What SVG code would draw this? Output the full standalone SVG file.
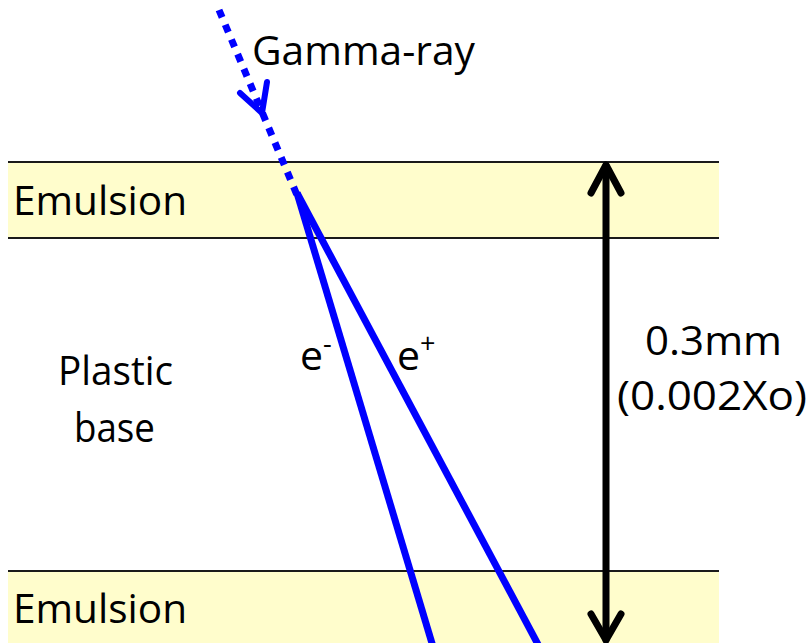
<svg xmlns="http://www.w3.org/2000/svg" width="811" height="643" viewBox="0 0 811 643">
<style>
.band{fill:#FFFDCC;}
.edge{stroke:#1a1a1a;stroke-width:2;fill:none;}
.t{font-family:"Open Sans","Liberation Sans",sans-serif;font-size:41px;fill:#000;}
.blue{stroke:#0000FF;stroke-width:7;fill:none;}
.blk{stroke:#000;stroke-width:7;fill:none;stroke-linecap:round;stroke-linejoin:round;}
</style>
<rect width="811" height="643" fill="#fff"/>
<g id="emulsion-top">
<rect class="band" x="8" y="162" width="711" height="76"/>
<line class="edge" x1="8" y1="162" x2="719" y2="162"/>
<line class="edge" x1="8" y1="238" x2="719" y2="238"/>
<text class="t" x="13" y="215" textLength="174" lengthAdjust="spacingAndGlyphs">Emulsion</text>
</g>
<g id="emulsion-bottom">
<rect class="band" x="8" y="571" width="711" height="72"/>
<line class="edge" x1="8" y1="571" x2="719" y2="571"/>
<text class="t" x="13" y="623" textLength="174" lengthAdjust="spacingAndGlyphs">Emulsion</text>
</g>
<g id="plastic-base">
<text class="t" x="58" y="385" textLength="115" lengthAdjust="spacingAndGlyphs">Plastic</text>
<text class="t" x="74" y="442" textLength="81" lengthAdjust="spacingAndGlyphs">base</text>
</g>
<g id="thickness-label">
<text class="t" x="645" y="355" textLength="137" lengthAdjust="spacingAndGlyphs">0.3mm</text>
<text class="t" x="617" y="410" textLength="190" lengthAdjust="spacingAndGlyphs">(0.002Xo)</text>
</g>
<g id="gamma-label">
<text class="t" x="252" y="65" textLength="223" lengthAdjust="spacingAndGlyphs">Gamma-ray</text>
</g>
<g id="connectors">
<line x1="219" y1="10" x2="297" y2="195" stroke="#0000FF" stroke-width="7" stroke-dasharray="8 8"/>
<polyline points="240,93 262,113 267,82" stroke="#0000FF" stroke-width="6" fill="none" stroke-linecap="round" stroke-linejoin="round"/>
<line class="blue" x1="297" y1="193" x2="434" y2="650"/>
<line class="blue" x1="297" y1="193" x2="541" y2="650"/>
<line class="blk" x1="606" y1="166" x2="606" y2="640" stroke-linecap="butt"/>
<polyline class="blk" points="591,193 606,165 621,193"/>
<polyline class="blk" points="591,614 606,640 621,614"/>
</g>
<g id="particle-labels">
<text class="t" x="300" y="370">e<tspan font-size="27" dy="-17">-</tspan></text>
<text class="t" x="397" y="370">e<tspan font-size="27" dy="-17">+</tspan></text>
</g>
</svg>
